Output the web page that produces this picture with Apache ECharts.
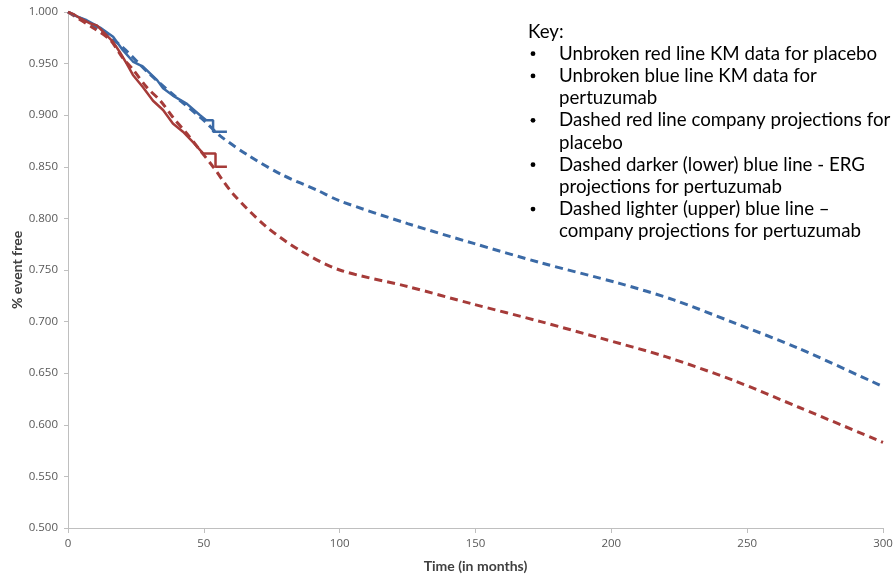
<!DOCTYPE html>
<html>
<head>
<meta charset="utf-8">
<script src="https://cdn.jsdelivr.net/npm/echarts@6/dist/echarts.min.js"></script>
<style>html,body{margin:0;padding:0;background:#fff}#c{width:896px;height:577px}</style>
</head>
<body>
<div id="c"></div>
<script>
// ---- data ----
const kmPlacebo = [[0,1.0],[2,0.998],[4.4,0.994],[8.1,0.989],[10.6,0.987],[12.9,0.981],[16.6,0.971],[19.1,0.961],[21.6,0.950],[23.9,0.939],[27.6,0.927],[31.3,0.914],[35,0.905],[38.6,0.892],[42.3,0.884],[46,0.874],[49.7,0.863],[54.3,0.863],[54.3,0.850],[58.5,0.850]];
const kmPertuzumab = [[0,1.0],[3,0.996],[6.9,0.992],[11.8,0.985],[16.6,0.976],[20.2,0.963],[23.9,0.952],[27.6,0.947],[32.8,0.934],[35,0.926],[38.6,0.919],[43.8,0.911],[48.6,0.900],[51,0.895],[53.4,0.895],[53.4,0.884],[58.5,0.884]];
const projPlacebo = [[0,1.0],[9,0.985],[15.5,0.973],[20,0.956],[24,0.944],[29,0.927],[34,0.914],[38.6,0.898],[43.8,0.882],[48.6,0.866],[53.4,0.850],[60.7,0.824],[73,0.792],[85.4,0.769],[100,0.750],[125,0.734],[149,0.717],[174,0.700],[196,0.684],[220,0.666],[245,0.643],[269,0.617],[300,0.583]];
const projPertuzumab = [[0,1.0],[10,0.986],[20,0.966],[30,0.940],[40,0.917],[50,0.895],[56,0.880],[67,0.860],[79,0.842],[92,0.827],[100,0.817],[125,0.795],[149,0.776],[174,0.757],[203,0.737],[223,0.721],[245,0.699],[269,0.674],[300,0.637]];
const keyTitle = 'Key:';
const keyLines = [
  {bullet:true, text:'Unbroken red line KM data for placebo'},
  {bullet:true, text:'Unbroken blue line KM data for'},
  {bullet:false, text:'pertuzumab'},
  {bullet:true, text:'Dashed red line company projections for'},
  {bullet:false, text:'placebo'},
  {bullet:true, text:'Dashed darker (lower) blue line - ERG'},
  {bullet:false, text:'projections for pertuzumab'},
  {bullet:true, text:'Dashed lighter (upper) blue line \u2013'},
  {bullet:false, text:'company projections for pertuzumab'}
];
const xName = 'Time (in months)';
const yName = '% event free';

const RED = '#a63b39';
const BLUE = '#3b6aa6';

const keyFont = {fontFamily:'Lato', fontSize:18.7, fill:'#000', verticalAlign:'middle', align:'left'};
const graphics = [{type:'text', style:Object.assign({text:keyTitle, x:528, y:31.5}, keyFont)}];
keyLines.forEach((l,i)=>{
  const cy = 53.7 + i*22.2;
  if (l.bullet) graphics.push({type:'circle', shape:{cx:533, cy:cy, r:2.4}, style:{fill:'#000'}});
  graphics.push({type:'text', style:Object.assign({text:l.text, x:559, y:cy}, keyFont)});
});

const chart = echarts.init(document.getElementById('c'), null, {renderer:'canvas'});
chart.setOption({
  animation:false,
  backgroundColor:'#fff',
  grid:{left:68, right:13, top:12, bottom:49, containLabel:false, outerBoundsMode:'none'},
  xAxis:{
    type:'value', min:0, max:300, interval:50,
    name:xName, nameLocation:'middle', nameGap:31, nameMoveOverlap:false,
    nameTextStyle:{fontFamily:'Lato', fontWeight:'bold', fontSize:14, color:'#404040'},
    axisLine:{lineStyle:{color:'#bfbfbf', width:1}},
    axisTick:{show:true, length:5, lineStyle:{color:'#bfbfbf'}},
    axisLabel:{fontFamily:'Open Sans', fontSize:11.5, color:'#595959', margin:10},
    splitLine:{show:false}
  },
  yAxis:{
    type:'value', min:0.5, max:1.0, interval:0.05,
    name:yName, nameLocation:'middle', nameGap:44, nameMoveOverlap:false,
    nameTextStyle:{fontFamily:'Lato', fontWeight:'bold', fontSize:14, color:'#404040'},
    axisLine:{show:true, lineStyle:{color:'#bfbfbf', width:1}},
    axisTick:{show:true, length:4, lineStyle:{color:'#bfbfbf'}},
    axisLabel:{fontFamily:'Open Sans', fontSize:11.5, color:'#595959', margin:10, formatter:v=>v.toFixed(3)},
    splitLine:{show:false}
  },
  series:[
    {type:'line', data:projPertuzumab, showSymbol:false, smooth:0.3, lineStyle:{color:BLUE, width:3, type:[8,5]}, z:2},
    {type:'line', data:projPlacebo, showSymbol:false, smooth:0.3, lineStyle:{color:RED, width:3, type:[8,5]}, z:2},
    {type:'line', data:kmPertuzumab, showSymbol:false, lineStyle:{color:BLUE, width:2.5}, z:3},
    {type:'line', data:kmPlacebo, showSymbol:false, lineStyle:{color:RED, width:2.5}, z:3}
  ],
  graphic:graphics
});
</script>
</body>
</html>
